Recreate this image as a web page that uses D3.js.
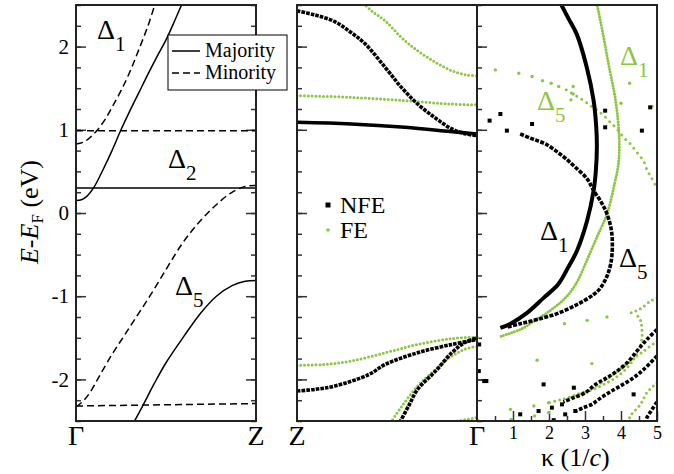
<!DOCTYPE html>
<html>
<head>
<meta charset="utf-8">
<script src="https://cdn.jsdelivr.net/npm/d3@7"></script>
<style>
  body{margin:0;background:#fff;}
  text{font-family:"Liberation Serif","Times New Roman",serif;fill:#000;}
  .frame{fill:none;stroke:#222;stroke-width:2;}
  .tick line{stroke:#333;stroke-width:1.5;}
  .maj{fill:none;stroke:#000;stroke-width:1.5;}
  .min{fill:none;stroke:#000;stroke-width:1.5;stroke-dasharray:7,4;}
  .nfe{fill:none;stroke:#000;stroke-width:3.6;stroke-dasharray:3.6,1.1;}
  .fe{fill:none;stroke:#8dc641;stroke-width:3;stroke-linecap:round;stroke-dasharray:0,3.8;}
</style>
</head>
<body>
<script>
var W=674,H=474;
var green='#8dc641';

// energy ticks (eV) and kappa ticks (1/c)
var eTicks=[-2,-1,0,1,2];
var kTicks=[1,2,3,4,5];

// left panel: Gamma(0) -> Z(1), majority (solid) and minority (dashed)
var majD1=[[0,0.15],[0.03,0.16],[0.06,0.2],[0.1,0.31],[0.15,0.52],[0.2,0.75],[0.25,1.0],[0.3,1.23],[0.35,1.45],[0.4,1.67],[0.45,1.88],[0.5,2.08],[0.55,2.32],[0.59,2.52]];
var majD2=[[0,0.3],[1,0.3]];
var majD5=[[0.32,-2.52],[0.37,-2.32],[0.43,-2.07],[0.5,-1.8],[0.6,-1.48],[0.69,-1.21],[0.78,-1.0],[0.87,-0.87],[0.94,-0.82],[1,-0.81]];
var minD1=[[0,0.83],[0.04,0.85],[0.08,0.91],[0.12,1.0],[0.16,1.12],[0.2,1.27],[0.25,1.47],[0.3,1.7],[0.35,1.97],[0.4,2.25],[0.44,2.52]];
var minD2=[[0,0.99],[1,0.99]];
var minD5=[[0,-2.33],[0.04,-2.26],[0.08,-2.15],[0.13,-1.96],[0.2,-1.7],[0.26,-1.5],[0.32,-1.3],[0.41,-1.0],[0.5,-0.68],[0.58,-0.4],[0.66,-0.17],[0.76,0.06],[0.86,0.24],[0.94,0.32],[1,0.33]];
var minLow=[[0,-2.32],[1,-2.29]];

// middle panel: k measured from Gamma (0, right) to Z (1, left)
var nfeM1=[[1,2.43],[0.9,2.38],[0.79,2.3],[0.7,2.17],[0.62,2.03],[0.51,1.75],[0.42,1.51],[0.33,1.31],[0.23,1.14],[0.14,1.01],[0.06,0.95],[0,0.93]];
var nfeM2=[[1,1.09],[0.7,1.07],[0.4,1.03],[0.15,0.98],[0,0.95]];
var nfeM3=[[1,-2.14],[0.9,-2.12],[0.79,-2.08],[0.6,-1.94],[0.51,-1.82],[0.33,-1.68],[0.14,-1.58],[0,-1.52]];
var nfeM4=[[0.43,-2.52],[0.38,-2.32],[0.33,-2.12],[0.23,-1.9],[0.14,-1.68],[0.07,-1.56],[0,-1.5]];
var feM1=[[0.63,2.52],[0.58,2.42],[0.51,2.31],[0.42,2.11],[0.33,1.95],[0.23,1.81],[0.14,1.71],[0.06,1.66],[0,1.65]];
var feM2=[[1,1.41],[0.7,1.39],[0.4,1.35],[0.15,1.31],[0,1.3]];
var feM3=[[1,-1.83],[0.85,-1.82],[0.7,-1.78],[0.51,-1.68],[0.33,-1.58],[0.14,-1.51],[0,-1.49]];
var feM4=[[0.48,-2.52],[0.42,-2.33],[0.33,-2.08],[0.23,-1.88],[0.14,-1.72],[0.07,-1.64],[0,-1.6]];
var feM5=[[0.11,-2.5],[0.05,-2.48],[0,-2.46]];

// right panel: complex bands, kappa (1/c) vs E
var nfeR1=[[2.32,2.52],[2.55,2.33],[2.77,2.15],[3.05,1.75],[3.24,1.35],[3.31,1.05],[3.33,0.8],[3.3,0.5],[3.24,0.27],[3.06,-0.09],[2.78,-0.45],[2.5,-0.68],[2.25,-0.86],[1.85,-1.02],[1.39,-1.2],[0.93,-1.33],[0.65,-1.38]];
var nfeR5=[[1.2,0.95],[1.48,0.9],[1.67,0.87],[1.9,0.83],[2.18,0.75],[2.45,0.66],[2.73,0.55],[3.06,0.41],[3.24,0.27],[3.45,0.13],[3.61,-0.01],[3.73,-0.2],[3.76,-0.4],[3.72,-0.6],[3.61,-0.76],[3.43,-0.9],[3.24,-0.98],[2.78,-1.1],[2.22,-1.21],[1.67,-1.28],[1.2,-1.33],[0.85,-1.37]];
var nfeRc=[[5.0,-1.4],[4.72,-1.52],[4.44,-1.66],[4.17,-1.8],[3.89,-1.9],[3.61,-1.98],[3.29,-2.06],[3.01,-2.16],[2.69,-2.22],[2.4,-2.27]];
var nfeRd=[[5.0,-1.72],[4.63,-1.88],[4.35,-1.98],[3.98,-2.08],[3.66,-2.16],[3.38,-2.24],[3.19,-2.3],[2.96,-2.34],[2.75,-2.38]];
var nfeRe=[[5.0,-2.27],[4.85,-2.37],[4.72,-2.46],[4.68,-2.52]];
var nfeSparse=[[0.35,1.11],[0.65,1.19],[0.83,0.99],[1.53,1.07],[3.56,1.23],[3.56,1.03],[4.58,0.99],[4.81,1.27],[0.06,-1.58],[0.05,-1.9],[0.2,-2.02],[0.26,-2.02],[1.85,-2.06],[2.69,-2.1],[4.35,-2.18],[1.71,-2.38],[1.2,-2.42],[2.13,-2.49],[2.45,-2.42],[2.73,-2.38],[2.36,-2.3],[2.08,-2.34]];

var feR1=[[3.33,2.52],[3.5,2.15],[3.65,1.8],[3.85,1.35],[3.95,0.9],[3.93,0.6],[3.82,0.35],[3.61,-0.01],[3.33,-0.29],[3.06,-0.56],[2.75,-0.85],[2.41,-1.04],[1.94,-1.2],[1.58,-1.3],[1.2,-1.4],[0.6,-1.49]];
var feR5=[[2.48,1.48],[2.82,1.39],[3.0,1.34],[3.19,1.28],[3.33,1.24],[3.52,1.17],[3.7,1.09],[3.89,1.01],[4.07,0.91],[4.26,0.83],[4.44,0.73],[4.63,0.62],[4.72,0.52],[4.85,0.42],[5.0,0.3]];
var feRtop=[[5.0,-1.02],[4.81,-1.06],[4.58,-1.14],[4.4,-1.18],[4.21,-1.21]];
var feRnose=[[4.47,-1.24],[4.55,-1.3],[4.58,-1.4],[4.58,-1.52],[4.49,-1.64],[4.35,-1.76],[4.17,-1.86],[3.94,-1.95],[3.7,-2.02],[3.43,-2.08],[3.1,-2.14],[2.8,-2.19],[2.5,-2.23]];
var feRb=[[5.0,-1.54],[4.63,-1.66],[4.26,-1.78],[3.9,-1.9],[3.52,-2.02],[3.15,-2.12],[2.78,-2.18],[2.36,-2.24],[2.0,-2.28]];
var feRc=[[5.0,-2.04],[4.72,-2.16],[4.54,-2.3],[4.26,-2.44],[4.2,-2.52]];
var feSparse=[[0.51,1.72],[1.16,1.68],[1.53,1.64],[1.82,1.59],[2.06,1.56],[2.27,1.52],[2.67,1.52],[2.67,1.43],[2.61,1.36],[4.24,1.56],[4.0,1.32],[4.86,1.28],[0.93,-2.36],[0.95,-2.48],[1.58,-2.32],[1.6,-2.44],[1.99,-2.28],[1.99,-2.4],[1.67,-1.77],[3.19,-1.81],[2.43,-1.33],[3.06,-1.29],[3.61,-1.25],[0.01,-1.5],[0.01,-2.49]];

var svg=d3.select('body').append('svg').attr('width',W).attr('height',H);

var yTop=5,yBot=421;
var y=d3.scaleLinear().domain([-2.5,2.5]).range([yBot,yTop]);
var xL=d3.scaleLinear().domain([0,1]).range([76,256]);
var xM=d3.scaleLinear().domain([1,0]).range([297,477]);
var xR=d3.scaleLinear().domain([0,5]).range([477,657]);
var minorE=d3.range(-2.5,2.51,0.25);

function clip(id,x0,x1){
  svg.append('clipPath').attr('id',id).append('rect')
    .attr('x',x0).attr('y',yTop).attr('width',x1-x0).attr('height',yBot-yTop);
}
clip('cL',76,256);clip('cM',297,477);clip('cR',477,657);

function yAxis(x,dir,size,vals,labels){
  var ax=(dir<0?d3.axisRight(y):d3.axisLeft(y)).tickValues(vals).tickSize(-size).tickPadding(7)
    .tickFormat(labels?function(d){return String(d);}:'');
  var g=svg.append('g').attr('transform','translate('+x+',0)').call(ax);
  g.select('.domain').remove();
  g.selectAll('text').style('font-size','21px').style('font-family','"Liberation Serif",serif');
}
// left panel ticks both sides
yAxis(76,1,5,minorE,false);yAxis(76,1,10,eTicks,true);
yAxis(256,-1,5,minorE,false);yAxis(256,-1,10,eTicks,false);
// middle panel ticks
yAxis(297,1,5,minorE,false);yAxis(297,1,10,eTicks,false);
// right panel left ticks
yAxis(477,1,5,minorE,false);yAxis(477,1,10,eTicks,false);

// kappa axis
var gk=svg.append('g').attr('transform','translate(0,'+yBot+')')
  .call(d3.axisBottom(xR).tickValues(d3.range(0.5,5,1)).tickSize(-5).tickFormat(''));
gk.select('.domain').remove();
var gk2=svg.append('g').attr('transform','translate(0,'+yBot+')')
  .call(d3.axisBottom(xR).tickValues(kTicks).tickSize(-10).tickPadding(5).tickFormat(function(d){return String(d);}));
gk2.select('.domain').remove();
gk2.selectAll('text').style('font-size','18px').style('font-family','"Liberation Serif",serif');

var line=function(xs){
  return d3.line().x(function(d){return xs(d[0]);}).y(function(d){return y(d[1]);}).curve(d3.curveCatmullRom.alpha(0.5));
};

// left panel curves
var gL=svg.append('g').attr('clip-path','url(#cL)');
[majD1,majD2,majD5].forEach(function(s){gL.append('path').attr('class','maj').attr('d',line(xL)(s));});
[minD1,minD2,minD5,minLow].forEach(function(s){gL.append('path').attr('class','min').attr('d',line(xL)(s));});

// middle panel
var gM=svg.append('g').attr('clip-path','url(#cM)');
[feM1,feM2,feM3,feM4,feM5].forEach(function(s){gM.append('path').attr('class','fe').attr('d',line(xM)(s));});
[nfeM1,nfeM3,nfeM4].forEach(function(s){gM.append('path').attr('class','nfe').attr('d',line(xM)(s));});
gM.append('path').attr('class','nfe').style('stroke-dasharray','none').attr('d',line(xM)(nfeM2));

// right panel
var gR=svg.append('g').attr('clip-path','url(#cR)');
gR.append('path').attr('class','fe').attr('d',line(xR)(feR1)).style('stroke-dasharray','0,2.8');
gR.append('path').attr('class','fe').attr('d',line(xR)(feR5)).style('stroke-dasharray','0,6');
[feRtop,feRnose,feRb,feRc].forEach(function(s){gR.append('path').attr('class','fe').attr('d',line(xR)(s)).style('stroke-dasharray','0,5');});
gR.selectAll('circle.fes').data(feSparse).enter().append('circle')
  .attr('cx',function(d){return xR(d[0]);}).attr('cy',function(d){return y(d[1]);})
  .attr('r',1.7).attr('fill',green);
gR.append('path').attr('class','nfe').attr('d',line(xR)(nfeR1)).style('stroke-dasharray','none').style('stroke-width',4);
gR.append('path').attr('class','nfe').attr('d',line(xR)(nfeR5)).style('stroke-dasharray','4,1.4');
[nfeRc,nfeRd,nfeRe].forEach(function(s){gR.append('path').attr('class','nfe').attr('d',line(xR)(s)).style('stroke-dasharray','3.6,1.8');});
gR.selectAll('rect.nfes').data(nfeSparse).enter().append('rect')
  .attr('x',function(d){return xR(d[0])-2;}).attr('y',function(d){return y(d[1])-2;})
  .attr('width',4).attr('height',4).attr('fill','#000');

// frames
[[76,256],[297,477],[477,657]].forEach(function(p){
  svg.append('rect').attr('class','frame').attr('x',p[0]).attr('y',yTop).attr('width',p[1]-p[0]).attr('height',yBot-yTop);
});

// k-point labels
function lab(x,t){svg.append('text').attr('x',x).attr('y',445).attr('text-anchor','middle').style('font-size','28px').text(t);}
lab(xL(0),'\u0393');lab(xL(1),'Z');lab(xM(1),'Z');lab(xM(0),'\u0393');

// axis titles
var yt=svg.append('text').attr('transform','translate(38,212) rotate(-90)').attr('text-anchor','middle').style('font-size','26px');
yt.append('tspan').style('font-style','italic').text('E');
yt.append('tspan').text('-');
yt.append('tspan').style('font-style','italic').text('E');
yt.append('tspan').attr('dy',5).style('font-size','17px').text('F');
yt.append('tspan').attr('dy',-5).text(' (eV)');

var kt=svg.append('text').attr('x',541).attr('y',466).style('font-size','26px');
kt.append('tspan').text('\u03ba (1/');
kt.append('tspan').style('font-style','italic').text('c');
kt.append('tspan').text(')');

// band labels
function delta(x,yb,sub,col){
  var t=svg.append('text').attr('x',x).attr('y',yb).style('font-size','28px').style('fill',col);
  t.append('tspan').text('\u0394');
  t.append('tspan').attr('dy',12).style('font-size','21px').text(sub);
}
delta(97,39,'1','#000');delta(168,168,'2','#000');delta(175,295,'5','#000');
delta(620,65,'1',green);delta(537,110,'5',green);
delta(540,240,'1','#000');delta(619,267,'5','#000');

// spin legend
var lg=svg.append('g');
lg.append('rect').attr('x',168).attr('y',35).attr('width',119).attr('height',55).attr('fill','#fff').attr('stroke','#000').attr('stroke-width',1);
lg.append('line').attr('class','maj').attr('x1',172).attr('x2',200).attr('y1',51).attr('y2',51);
lg.append('line').attr('class','min').attr('x1',172).attr('x2',200).attr('y1',73).attr('y2',73);
lg.append('text').attr('x',205).attr('y',57).style('font-size','20px').text('Majority');
lg.append('text').attr('x',205).attr('y',79).style('font-size','20px').text('Minority');

// NFE / FE legend
svg.append('rect').attr('x',325.5).attr('y',202.5).attr('width',5).attr('height',5).attr('fill','#000');
svg.append('text').attr('x',340).attr('y',213).style('font-size','24px').text('NFE');
svg.append('circle').attr('cx',328).attr('cy',230).attr('r',1.8).attr('fill',green);
svg.append('text').attr('x',340).attr('y',238).style('font-size','24px').text('FE');
</script>
</body>
</html>
